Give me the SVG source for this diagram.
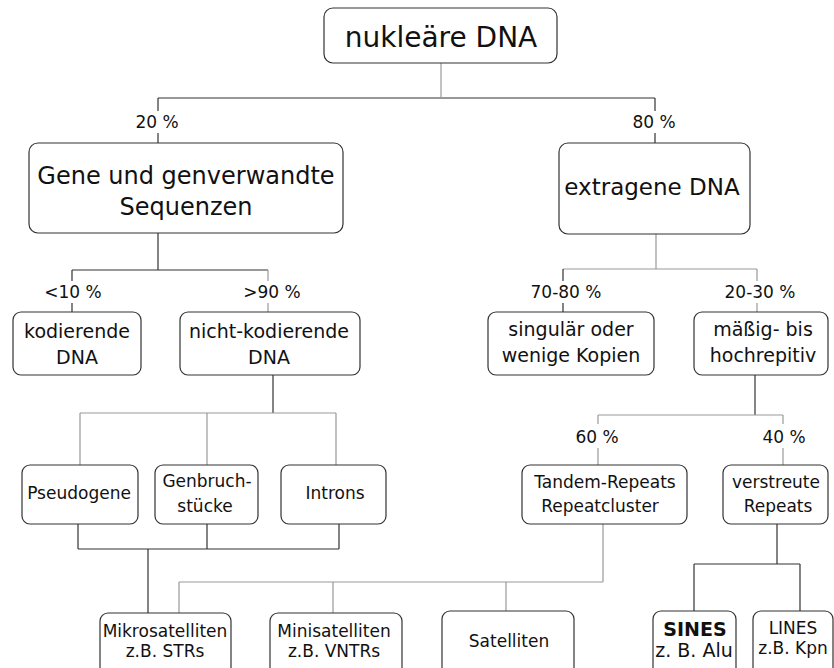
<svg xmlns="http://www.w3.org/2000/svg" width="834" height="668" viewBox="0 0 834 668">
<style>
.box{fill:#fff;stroke:#333;stroke-width:1.2}
text{font-family:"DejaVu Sans","Liberation Sans",sans-serif;fill:#111;text-anchor:middle}
.t1{font-size:28px}
.t2{font-size:24px}
.t2b{font-size:23px}
.t3{font-size:19px}
.t4{font-size:17px}
.p{font-size:17px}
.d{stroke:#333;stroke-width:1.2;fill:none}
.l{stroke:#999;stroke-width:1.2;fill:none}
</style>
<rect width="834" height="668" fill="#fff"/>
<g id="connectors">
<path class="l" d="M441 63V97"/>
<path class="d" d="M158 98H655M158 98V111M158 133V143M655 98V111M655 133V143"/>
<path class="d" d="M158 233V270M72 270H268M72 270V281M72 303V312"/>
<path class="l" d="M268 270V281M268 303V312"/>
<path class="l" d="M656 234V269M563 269H757M757 269V281M757 303V312"/>
<path class="d" d="M563 269V281M563 303V312"/>
<path class="d" d="M273 375V413"/>
<path class="l" d="M80 413H336M80 413V465M207 413V465M336 413V465"/>
<path class="d" d="M78 524V549M207 524V549M339 524V549M78 549H339M148 549V613"/>
<path class="l" d="M603 524V582M179 582H603M179 582V613M333 582V613M506 582V611"/>
<path class="d" d="M755 375V415"/>
<path class="l" d="M598 415H783M598 415V424M783 415V424M598 448V465M783 448V465"/>
<path class="d" d="M777 524V564M694 564H800M694 564V611M800 564V611"/>
</g>
<g id="labels">
<text class="p" x="157" y="128">20 %</text>
<text class="p" x="654" y="128">80 %</text>
<text class="p" x="73" y="298">&lt;10 %</text>
<text class="p" x="272" y="298">&gt;90 %</text>
<text class="p" x="566" y="298">70-80 %</text>
<text class="p" x="760" y="298">20-30 %</text>
<text class="p" x="597" y="443">60 %</text>
<text class="p" x="784" y="443">40 %</text>
</g>
<g id="n1"><rect class="box" x="324" y="8" width="233" height="55" rx="9"/><text class="t1" x="441" y="47">nukleäre DNA</text></g>
<g id="n2"><rect class="box" x="29" y="143" width="314" height="90" rx="9"/><text class="t2" x="186" y="184">Gene und genverwandte</text><text class="t2" x="186" y="215">Sequenzen</text></g>
<g id="n3"><rect class="box" x="559" y="143" width="191" height="91" rx="9"/><text class="t2b" x="652" y="195">extragene DNA</text></g>
<g id="n4"><rect class="box" x="13" y="312" width="128" height="63" rx="8"/><text class="t3" x="77" y="338">kodierende</text><text class="t3" x="77" y="364">DNA</text></g>
<g id="n5"><rect class="box" x="180" y="312" width="180" height="63" rx="8"/><text class="t3" x="269" y="338">nicht-kodierende</text><text class="t3" x="269" y="364">DNA</text></g>
<g id="n6"><rect class="box" x="488" y="312" width="166" height="63" rx="8"/><text class="t3" x="571" y="336">singulär oder</text><text class="t3" x="571" y="362">wenige Kopien</text></g>
<g id="n7"><rect class="box" x="694" y="312" width="134" height="63" rx="8"/><text class="t3" x="763" y="336">mäßig- bis</text><text class="t3" x="763" y="362">hochrepitiv</text></g>
<g id="n8"><rect class="box" x="22" y="465" width="116" height="59" rx="8"/><text class="t4" x="79" y="499">Pseudogene</text></g>
<g id="n9"><rect class="box" x="155" y="465" width="103" height="59" rx="8"/><text class="t4" x="207" y="487">Genbruch-</text><text class="t4" x="205" y="512">stücke</text></g>
<g id="n10"><rect class="box" x="281" y="465" width="105" height="59" rx="8"/><text class="t4" x="335" y="499">Introns</text></g>
<g id="n11"><rect class="box" x="522" y="465" width="165" height="59" rx="8"/><text class="t4" x="605" y="488">Tandem-Repeats</text><text class="t4" x="600" y="512">Repeatcluster</text></g>
<g id="n12"><rect class="box" x="723" y="465" width="105" height="59" rx="8"/><text class="t4" x="776" y="488">verstreute</text><text class="t4" x="778" y="512">Repeats</text></g>
<g id="n13"><rect class="box" x="100" y="613" width="131" height="70" rx="8"/><text class="t4" x="165" y="637">Mikrosatelliten</text><text class="t4" x="165" y="657">z.B. STRs</text></g>
<g id="n14"><rect class="box" x="270" y="613" width="132" height="70" rx="8"/><text class="t4" x="334" y="637">Minisatelliten</text><text class="t4" x="334" y="657">z.B. VNTRs</text></g>
<g id="n15"><rect class="box" x="442" y="611" width="132" height="70" rx="8"/><text class="t4" x="509" y="647">Satelliten</text></g>
<g id="n16"><rect class="box" x="653" y="611" width="83" height="70" rx="8"/><text x="695" y="636" style="font-size:19px;font-weight:bold">SINES</text><text x="694" y="657" style="font-size:19px">z. B. Alu</text></g>
<g id="n17"><rect class="box" x="753" y="611" width="80" height="70" rx="8"/><text class="t4" x="793" y="634">LINES</text><text class="t4" x="793" y="654">z.B. Kpn</text></g>
</svg>
